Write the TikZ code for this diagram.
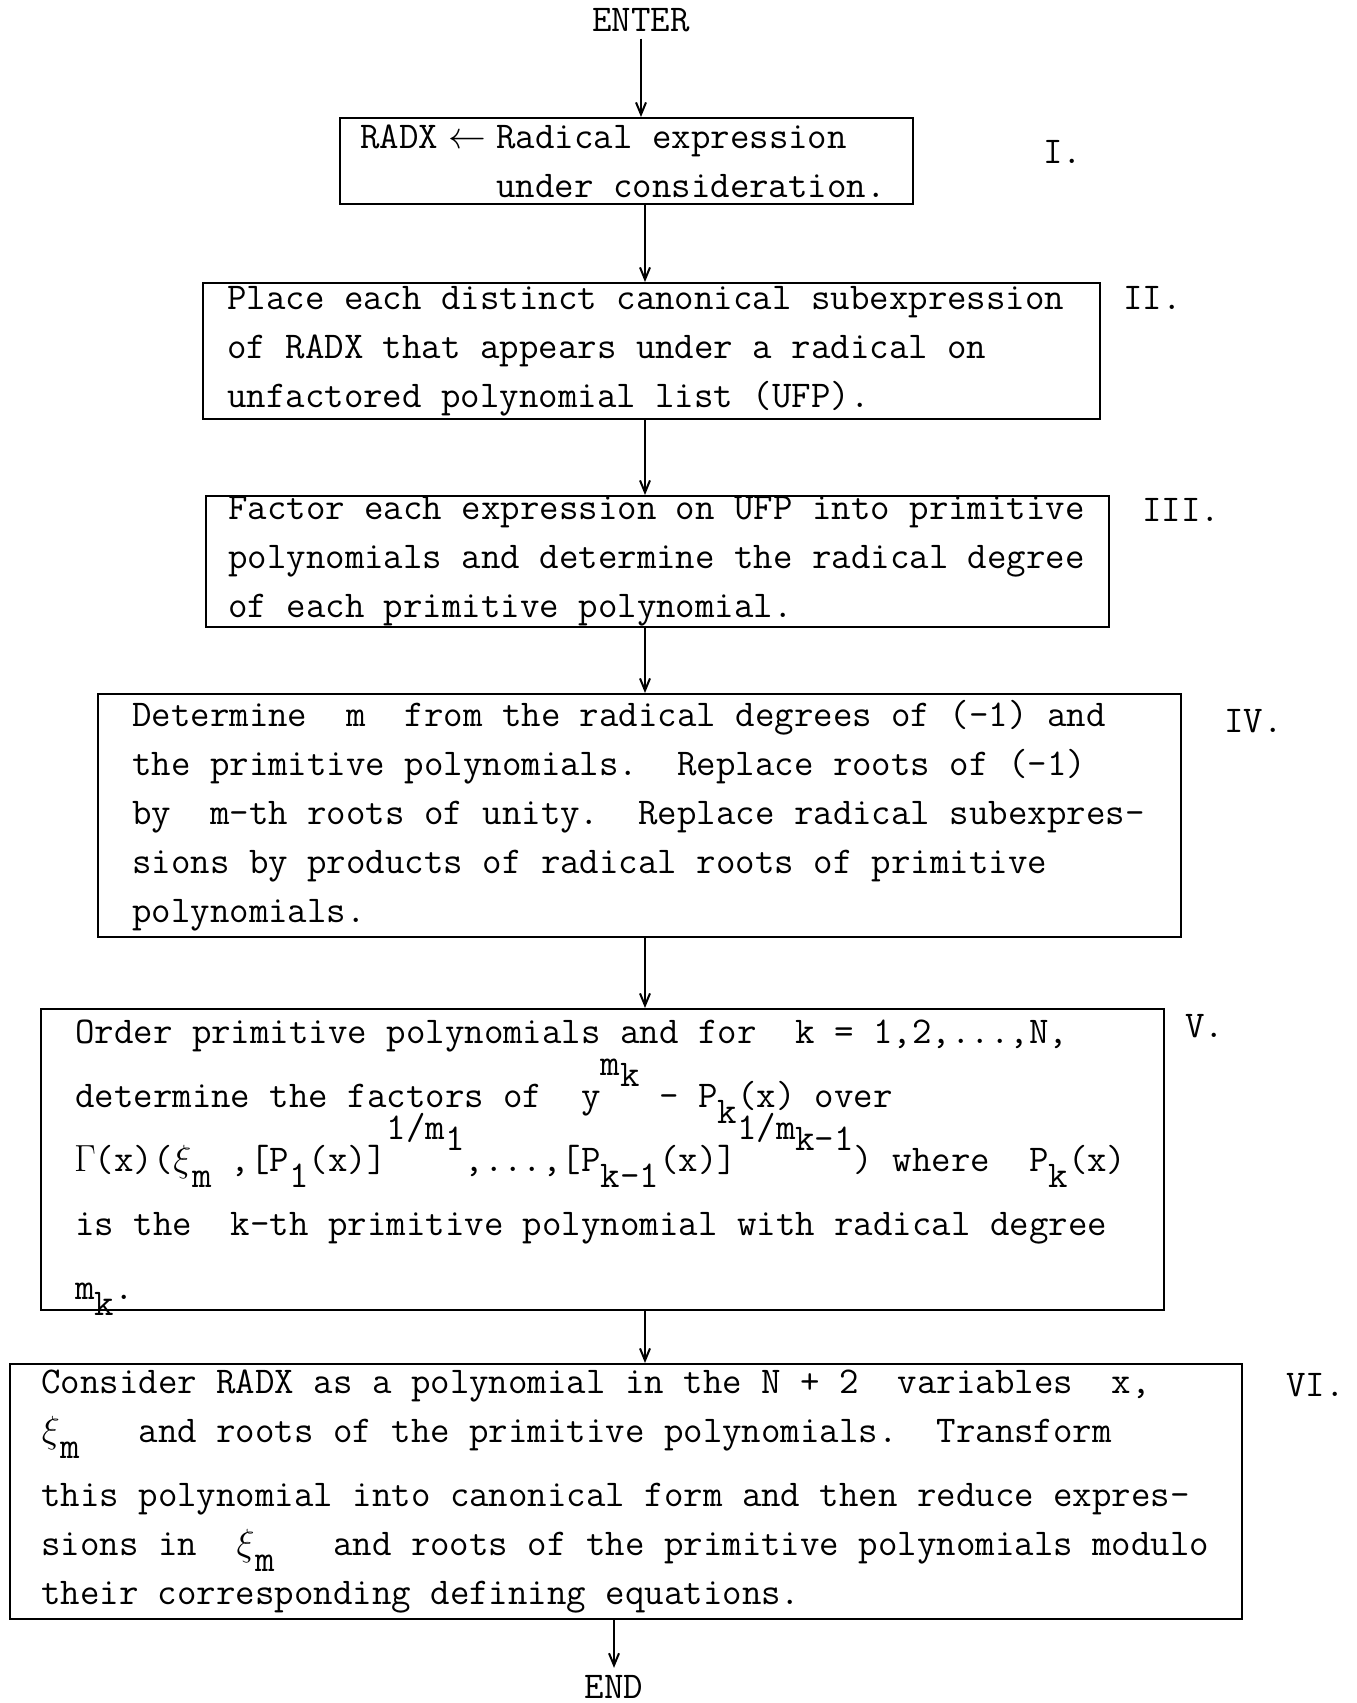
\documentclass[tikz,border=0pt]{standalone}
\usepackage{fix-cm}
\usepackage{fontspec}
\usetikzlibrary{arrows.meta}

\newcommand\dn[1]{\raisebox{-0.42em}[0pt][0pt]{#1}}
\newcommand\up[1]{\raisebox{0.85em}[0pt][0pt]{#1}}
\newcommand\upk[1]{\raisebox{0.55em}[0pt][0pt]{#1}}
\newcommand\onecol[1]{\makebox[\fontcharwd\font`M][c]{#1}}
\newcommand\cols[1]{\hspace*{#1\fontcharwd\font`M}}
\newcommand\typeset[1]{\ttfamily\fontsize{18.9pt}{#1}\selectfont\frenchspacing}

\tikzset{
  tt/.style={font={\typeset{24.5pt}}, execute at begin node={\spaceskip\fontcharwd\font`M\relax}},
  stage/.style={tt, draw, line width=1.2pt, anchor=north west, align=flush left, inner ysep=0pt},
  flow/.style={line width=1pt, -{Straight Barb[length=6pt,width=5pt]}},
  tag/.style={tt, anchor=base west},
}

\begin{document}
\begin{tikzpicture}[x=0.5pt, y=-0.5pt]
\useasboundingbox (0,0) rectangle (1356,1703);

\coordinate (spine) at (645,0);

\node[tt, anchor=base] (enter) at (641,31) {ENTER};

\node[stage, inner xsep=10pt, text width=266.5pt, minimum width=286.5pt, minimum height=43pt] (radx) at (339,117)
  {RADX\makebox[3\fontcharwd\font`M][c]{$\leftarrow$}Radical expression\\
   \cols{7}under consideration.};

\node[stage, inner xsep=12pt, text width=424.5pt, minimum width=448.5pt, minimum height=68pt] (ufp) at (202,282)
  {Place each distinct canonical subexpression\\
   of RADX that appears under a radical on\\
   unfactored polynomial list (UFP).};

\node[stage, inner xsep=11pt, text width=429.5pt, minimum width=451.5pt, minimum height=65.5pt] (factor) at (205,495)
  {Factor each expression on UFP into primitive\\
   polynomials and determine the radical degree\\
   of each primitive polynomial.};

\node[stage, inner xsep=17pt, text width=507.5pt, minimum width=541.5pt, minimum height=121.5pt] (roots) at (97,693)
  {Determine~~m~~from the radical degrees of (-1) and\\
   the primitive polynomials.~~Replace roots of (-1)\\
   by~~m-th roots of unity.~~Replace radical subexpres-\\
   sions by products of radical roots of primitive\\
   polynomials.};

\node[stage, font={\typeset{32pt}}, inner xsep=17pt, text width=527.5pt, minimum width=561.5pt, minimum height=150.5pt] (order) at (40,1008)
  {Order primitive polynomials and for~~k = 1,2,...,N,\\
   determine the factors of~~y\up{m}\upk{k}~-~P\dn{k}(x) over\\
   \onecol{$\Gamma$}(x)(\onecol{$\xi$}\dn{m}~,[P\dn{1}(x)]\up{1/m}\upk{1},...,[P\dn{k-1}(x)]\up{1/m}\upk{k-1})~where~~P\dn{k}(x)\\
   is the~~k-th primitive polynomial with radical degree\\
   m\dn{k}.};

\node[stage, inner xsep=15.5pt, text width=585pt, minimum width=616pt, minimum height=127.5pt] (reduce) at (9,1363)
  {Consider RADX as a polynomial in the~N + 2~~variables~~x,\\
   \onecol{$\xi$}\dn{m}~~~and roots of the primitive polynomials.~~Transform\\[7.5pt]
   this polynomial into canonical form and then reduce expres-\\
   sions in~~\onecol{$\xi$}\dn{m}~~~and roots of the primitive polynomials modulo\\
   their corresponding defining equations.};

\node[tt, anchor=base] (end) at (614,1698) {END};

% step numbers
\node[tag] (tI) at (1036,163) {I.};
\node[tag] (tII) at (1116,309) {II.};
\node[tag] (tIII) at (1135,521) {III.};
\node[tag] (tIV) at (1217,732) {IV.};
\node[tag] (tV) at (1178,1037) {V.};
\node[tag] (tVI) at (1279,1396) {VI.};

\draw[flow] (enter) -- (enter |- radx.north);
\draw[flow] (radx.south -| spine) -- (ufp.north -| spine);
\draw[flow] (ufp.south -| spine) -- (factor.north -| spine);
\draw[flow] (factor.south -| spine) -- (roots.north -| spine);
\draw[flow] (roots.south -| spine) -- (order.north -| spine);
\draw[flow] (order.south -| spine) -- (reduce.north -| spine);
\draw[flow] (reduce.south -| end) -- (end);
\end{tikzpicture}
\end{document}
